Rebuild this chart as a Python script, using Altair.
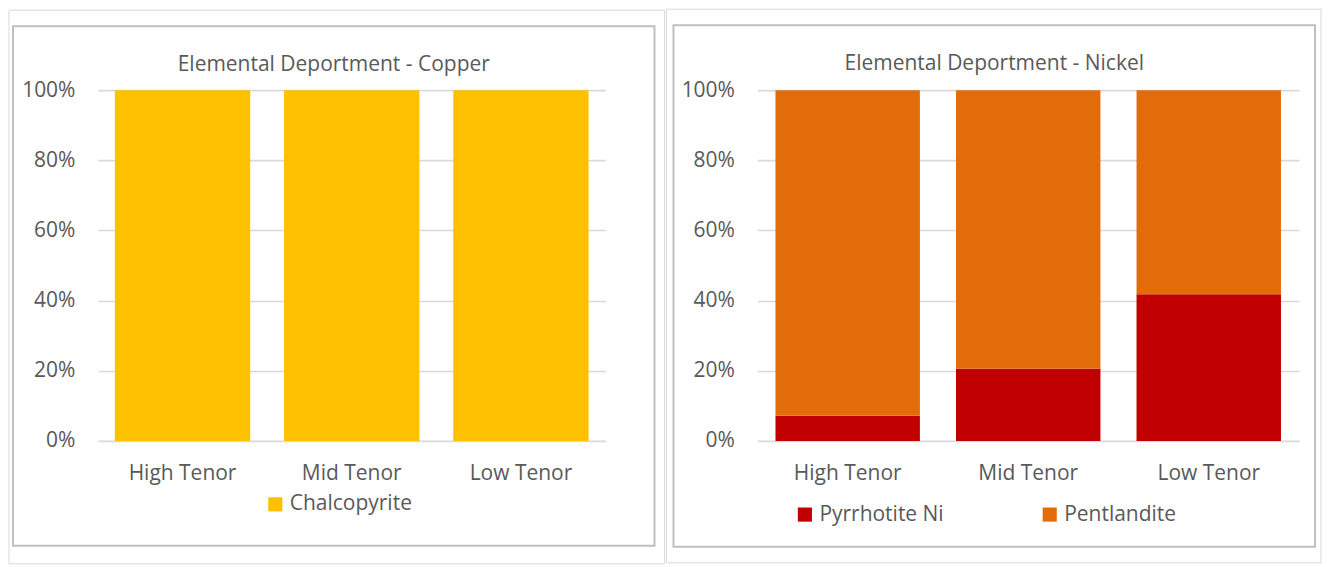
import altair as alt
import pandas as pd

categories = ["High Tenor", "Mid Tenor", "Low Tenor"]
copper_minerals = ["Chalcopyrite"]
copper_chalcopyrite = [1.0, 1.0, 1.0]
nickel_minerals = ["Pyrrhotite Ni", "Pentlandite"]
nickel_pyrrhotite = [0.072, 0.206, 0.418]
nickel_pentlandite = [0.928, 0.794, 0.582]

FONT = "Open Sans"
TXT = "#595959"
GRID = "#d9d9d9"
FS = 21

cu = pd.DataFrame({"cat": categories, "mineral": "Chalcopyrite", "val": copper_chalcopyrite, "ord": 0})
ni = pd.concat([
    pd.DataFrame({"cat": categories, "mineral": "Pyrrhotite Ni", "val": nickel_pyrrhotite, "ord": 0}),
    pd.DataFrame({"cat": categories, "mineral": "Pentlandite", "val": nickel_pentlandite, "ord": 1}),
])
one = pd.DataFrame({"a": [0]})

def xenc():
    return alt.X("cat:N", sort=categories, title=None,
                 scale=alt.Scale(paddingInner=0.2, paddingOuter=0.1),
                 axis=alt.Axis(labelAngle=0, domain=False, ticks=False, labelPadding=22,
                               labelFontSize=FS, labelColor=TXT, labelFont=FONT))

def yenc():
    return alt.Y("val:Q", title=None, stack="zero",
                 scale=alt.Scale(domain=[0, 1], nice=False),
                 axis=alt.Axis(format=".0%", values=[0, 0.2, 0.4, 0.6, 0.8, 1.0], domain=False,
                               ticks=False, labelPadding=23, labelFontSize=FS, labelColor=TXT,
                               labelFont=FONT, gridColor=GRID, gridWidth=1.6))

def frame(x, x2, y, y2, color, w):
    return alt.Chart(one).mark_rect(filled=False, stroke=color, strokeWidth=w).encode(
        x=alt.value(x), x2=alt.value(x2), y=alt.value(y), y2=alt.value(y2))

def title(txt, x, y):
    return alt.Chart(one).mark_text(text=txt, font=FONT, fontSize=FS, color=TXT,
                                    align="center", baseline="middle").encode(
        x=alt.value(x), y=alt.value(y))

legend_common = dict(orient="none", direction="horizontal", title=None, symbolType="square",
                     symbolSize=200, labelFontSize=FS, labelFont=FONT, labelColor=TXT,
                     symbolStrokeWidth=0, labelOffset=4)

left_bars = alt.Chart(cu).mark_bar().encode(
    x=xenc(), y=yenc(),
    color=alt.Color("mineral:N", scale=alt.Scale(domain=copper_minerals, range=["#FFC000"]),
                    legend=alt.Legend(legendX=167, legendY=404, **legend_common)),
    order=alt.Order("ord:Q"),
)
left = alt.layer(
    frame(-89, 567, -80, 474, "#d9d9d9", 1),
    frame(-85, 557, -64, 456, "#bfbfbf", 2),
    left_bars,
    title("Elemental Deportment - Copper", 236, -25),
).properties(width=508, height=351)

right_bars = alt.Chart(ni).mark_bar().encode(
    x=xenc(), y=yenc(),
    color=alt.Color("mineral:N", scale=alt.Scale(domain=nickel_minerals, range=["#C00000", "#E36C0A"]),
                    legend=alt.Legend(legendX=37, legendY=414, columnPadding=95, **legend_common)),
    order=alt.Order("ord:Q"),
)
right = alt.layer(
    frame(-91, 564, -81, 473, "#d9d9d9", 1),
    frame(-84, 558, -65, 457, "#bfbfbf", 2),
    right_bars,
    title("Elemental Deportment - Nickel", 237, -26),
).properties(width=542, height=351)

chart = alt.hconcat(left, right, spacing=0).resolve_scale(color="independent", x="independent", y="independent").properties(
    padding=0
).configure_view(stroke=None).configure_legend(orient="none")

chart.save("out.html", embed_options={"renderer": "svg", "actions": False})
